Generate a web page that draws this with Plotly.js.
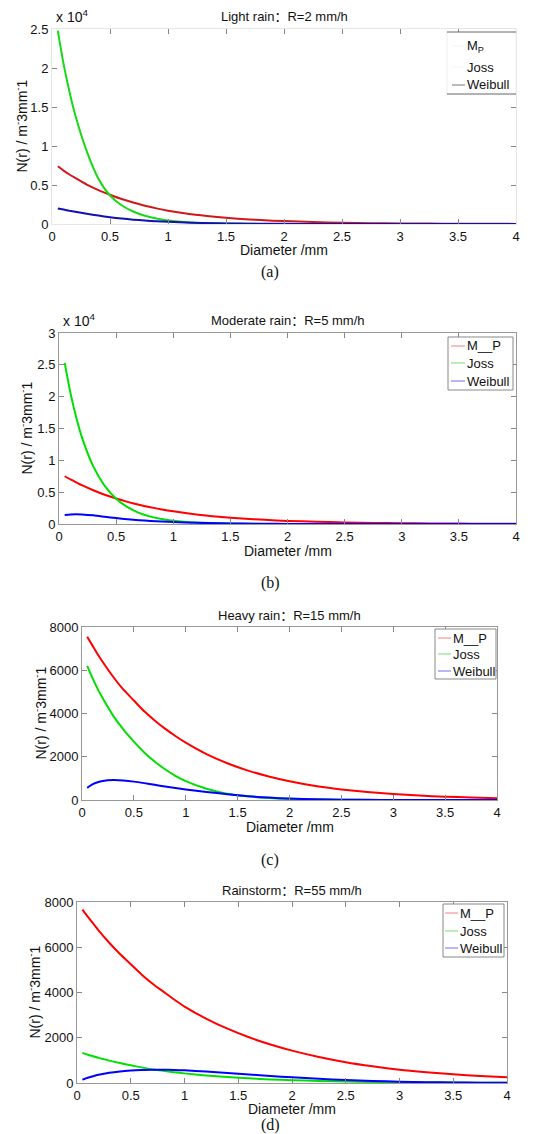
<!DOCTYPE html>
<html>
<head>
<meta charset="utf-8">
<script src="https://cdn.plot.ly/plotly-3.0.1.min.js"></script>
<style>html,body{margin:0;padding:0;background:#fff;}#chart{width:555px;height:1134px;}</style>
</head>
<body>
<div id="chart"></div>
<script>
// ---------- data ----------
const diameter = [0.05,0.1,0.15,0.2,0.3,0.4,0.5,0.6,0.7,0.8,0.9,1.0,1.2,1.4,1.6,1.8,2.0,2.25,2.5,2.75,3.0,3.25,3.5,3.75,4.0];

// (a) Light rain R=2 mm/h
const lightMP      = [7400,6850,6350,5900,5050,4350,3750,3200,2750,2350,2000,1700,1250,930,680,500,370,250,170,110,75,50,33,22,15];
const lightJoss    = [24800,20500,17000,14000,9300,5800,3650,2400,1600,1050,700,450,200,90,40,15,8,3,1,0,0,0,0,0,0];
const lightWeibull = [2000,1850,1700,1570,1320,1080,870,700,560,440,350,280,170,100,60,35,20,10,5,2,1,0,0,0,0];

// (b) Moderate rain R=5 mm/h
const modMP        = [7500,7000,6550,6100,5300,4600,4000,3480,3020,2630,2290,1990,1500,1140,860,650,490,350,250,175,125,90,63,45,32];
const modJoss      = [25300,20600,16800,13650,9050,6000,3980,2640,1750,1160,770,510,225,100,44,19,8,3,1,0,0,0,0,0,0];
const modWeibull   = [1400,1500,1530,1500,1360,1150,930,750,600,480,380,300,180,105,60,33,18,8,3,1,0,0,0,0,0];

// (c) Heavy rain R=15 mm/h
const heavyMP      = [7550,7150,6750,6380,5700,5100,4600,4100,3680,3300,2960,2650,2120,1700,1360,1090,870,650,490,365,275,205,155,115,85];
const heavyJoss    = [6200,5650,5150,4700,3900,3250,2700,2200,1780,1420,1120,870,520,290,170,95,52,25,12,5,2,1,0,0,0];
const heavyWeibull = [560,720,820,880,920,900,850,780,700,625,555,490,370,270,175,110,65,35,16,7,3,1,0,0,0];

// (d) Rainstorm R=55 mm/h
const stormMP      = [7660,7350,7050,6750,6200,5700,5250,4800,4400,4050,3700,3380,2850,2400,2020,1700,1430,1150,920,740,590,480,385,310,250];
const stormJoss    = [1330,1250,1180,1110,990,880,780,690,600,545,480,425,335,265,205,160,125,90,65,48,35,25,18,13,9];
const stormWeibull = [150,230,300,360,450,510,550,575,590,585,575,560,510,445,375,310,250,185,130,90,58,36,22,13,7];

const panelTitles = ['Light rain：R=2 mm/h','Moderate rain：R=5 mm/h','Heavy rain：R=15 mm/h','Rainstorm：R=55 mm/h'];
const captions = ['(a)','(b)','(c)','(d)'];
const seriesNamesA = ['M<sub>P</sub>','Joss','Weibull'];
const seriesNames = ['M__P','Joss','Weibull'];
const xTicks = [0,0.5,1,1.5,2,2.5,3,3.5,4];
const yTicksA = [0,5000,10000,15000,20000,25000];
const yTickTextA = ['0','0.5','1','1.5','2','2.5'];
const yTicksB = [0,5000,10000,15000,20000,25000,30000];
const yTickTextB = ['0','0.5','1','1.5','2','2.5','3'];
const yTicksCD = [0,2000,4000,6000,8000];
const xTitle = 'Diameter /mm';
const yTitle = 'N(r) / m<sup>-</sup>3mm<sup>-</sup>1';

// ---------- layout helpers ----------
const W = 555, H = 1134;
const FONT = 'Liberation Sans, Arial, Noto Sans CJK SC, sans-serif';
const px = v => v / W;
const py = v => 1 - v / H;

const panels = [
  {box:[52,29,516,224], yr:[0,25000], tv:yTicksA, tt:yTickTextA, exp:true, names:seriesNamesA,
   series:[lightMP,lightJoss,lightWeibull], colors:['#d01818','#18d818','#1010b0'], line:'#e6e6e6',
   legBox:[447,32,516,94], legRows:[46,67,85], legLine:[452,465], legText:466,
   legColors:['#f4f4f4','#f4f4f4','#777'], legSides:'#eee', legTB:'#666',
   ytx:21, xty:250, cap:272},
  {box:[59,333,516,524], yr:[0,30000], tv:yTicksB, tt:yTickTextB, exp:true, names:seriesNames,
   series:[modMP,modJoss,modWeibull], colors:['#ff0000','#00e000','#0000ff'], line:'#999',
   legBox:[448,337,513,390], legRows:[346,363,381], legLine:[451,465], legText:466,
   legColors:['#f08080','#70e070','#7070f0'], legSides:'#888', legTB:'#888',
   ytx:27, xty:551, cap:583},
  {box:[82,627,497,800], yr:[0,8000], tv:yTicksCD, tt:null, exp:false, names:seriesNames,
   series:[heavyMP,heavyJoss,heavyWeibull], colors:['#ff0000','#00e000','#0000ff'], line:'#999',
   legBox:[435,629,496,679], legRows:[638,654,671], legLine:[438,451], legText:452,
   legColors:['#f08080','#70e070','#7070f0'], legSides:'#888', legTB:'#888',
   ytx:40, xty:827, cap:860},
  {box:[77,902,507,1083], yr:[0,8000], tv:yTicksCD, tt:null, exp:false, names:seriesNames,
   series:[stormMP,stormJoss,stormWeibull], colors:['#ff0000','#00e000','#0000ff'], line:'#999',
   legBox:[443,904,504,957], legRows:[913,931,948], legLine:[445,458], legText:459,
   legColors:['#f08080','#70e070','#7070f0'], legSides:'#888', legTB:'#888',
   ytx:34, xty:1109, cap:1125}
];

const data = [];
const layout = {
  width: W, height: H,
  margin: {l:0, r:0, t:0, b:0},
  paper_bgcolor: '#fff', plot_bgcolor: '#fff',
  font: {family: FONT, size: 13, color: '#111'},
  showlegend: false,
  annotations: [], shapes: []
};

function pline(x0, y0, x1, y1, color, width) {
  layout.shapes.push({type:'line', xref:'paper', yref:'paper',
    x0: px(x0), y0: py(y0), x1: px(x1), y1: py(y1), line:{color: color, width: width || 1}});
}

panels.forEach((p, i) => {
  const n = i === 0 ? '' : String(i + 1);
  const xa = 'xaxis' + n, ya = 'yaxis' + n;
  p.series.forEach((s, k) => {
    data.push({
      type: 'scatter', mode: 'lines', x: diameter, y: s,
      name: p.names[k], xaxis: 'x' + n, yaxis: 'y' + n,
      line: {color: p.colors[k], width: 2, shape: 'spline', smoothing: 0.6}
    });
  });
  const [x0, y0, x1, y1] = p.box;
  layout[xa] = {
    domain: [px(x0), px(x1)], range: [0, 4], anchor: 'y' + n,
    tickvals: xTicks, ticks: 'inside', ticklen: 5, tickcolor: '#888',
    showline: true, linecolor: p.line, linewidth: 1, mirror: 'ticks',
    showgrid: false, zeroline: false, automargin: false,
    tickfont: {size: 13, color: '#111'}
  };
  layout[ya] = {
    domain: [py(y1), py(y0)], range: p.yr, anchor: 'x' + n,
    tickvals: p.tv, ticktext: p.tt || undefined, ticks: 'inside', ticklen: 5, tickcolor: '#888',
    showline: true, linecolor: p.line, linewidth: 1, mirror: 'ticks',
    showgrid: false, zeroline: false, automargin: false,
    tickfont: {size: 13, color: '#111'}
  };
  // axis titles
  layout.annotations.push({
    xref:'paper', yref:'paper', x: px((x0 + x1) / 2), y: py(p.xty),
    text: xTitle, showarrow:false, xanchor:'center', yanchor:'middle',
    font:{size:14, color:'#111'}
  });
  layout.annotations.push({
    xref:'paper', yref:'paper', x: px(p.ytx), y: py((y0 + y1) / 2),
    text: yTitle, showarrow:false, xanchor:'center', yanchor:'middle', textangle:-90,
    font:{size:14, color:'#111'}
  });
  // panel title
  layout.annotations.push({
    xref: 'paper', yref: 'paper', x: px((x0 + x1) / 2), y: py(y0 - 12),
    text: panelTitles[i], showarrow: false, xanchor: 'center', yanchor: 'middle',
    font: {size: 13, color: '#111'}
  });
  // caption
  layout.annotations.push({
    xref: 'paper', yref: 'paper', x: px(270), y: py(p.cap),
    text: captions[i], showarrow: false, xanchor: 'center', yanchor: 'middle',
    font: {family: 'Liberation Serif, Times New Roman, serif', size: 16, color: '#111'}
  });
  if (p.exp) {
    layout.annotations.push({
      xref: 'paper', yref: 'paper', x: px(x0 + 2), y: py(y0 - 2),
      text: 'x 10<sup>4</sup>', showarrow: false, xanchor: 'left', yanchor: 'bottom',
      font: {size: 14, color: '#111'}
    });
  }
  // legend box
  const [lx0, ly0, lx1, ly1] = p.legBox;
  layout.shapes.push({type:'rect', xref:'paper', yref:'paper',
    x0: px(lx0), y0: py(ly1), x1: px(lx1), y1: py(ly0),
    fillcolor:'#fff', line:{color:'rgba(0,0,0,0)', width:0}});
  pline(lx0, ly0, lx0, ly1, p.legSides);
  pline(lx1, ly0, lx1, ly1, p.legSides);
  pline(lx0, ly0, lx1, ly0, p.legTB);
  pline(lx0, ly1, lx1, ly1, p.legTB);
  p.names.forEach((nm, k) => {
    pline(p.legLine[0], p.legRows[k], p.legLine[1], p.legRows[k], p.legColors[k]);
    layout.annotations.push({
      xref:'paper', yref:'paper', x: px(p.legText - 1), y: py(p.legRows[k]),
      text: nm, showarrow:false, xanchor:'left', yanchor:'middle',
      font:{size:13, color:'#111'}
    });
  });
});

Plotly.newPlot('chart', data, layout, {displayModeBar: false, staticPlot: true});
</script>
</body>
</html>
